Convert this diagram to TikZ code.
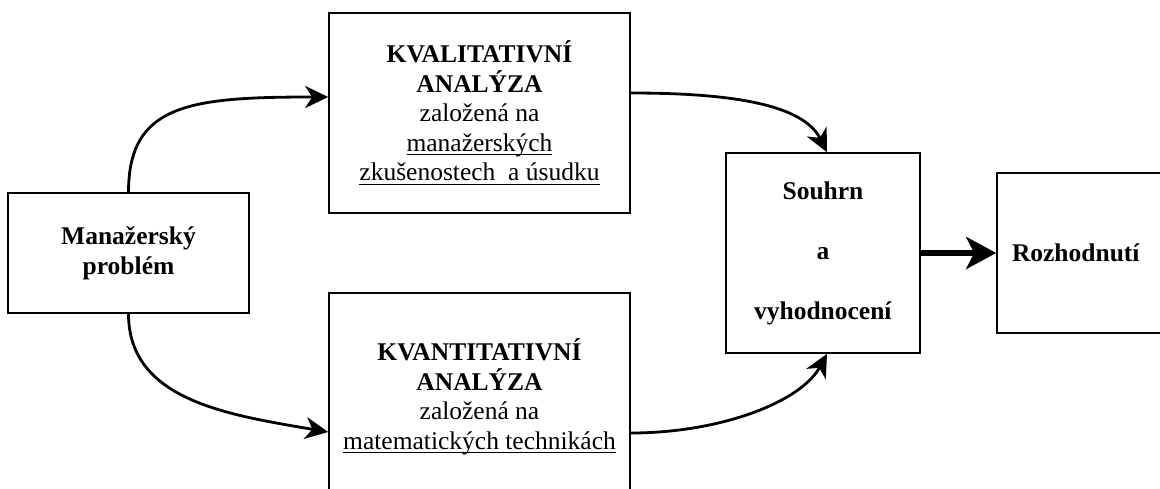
\documentclass[tikz,border=0pt]{standalone}
\usepackage{fontspec}
\setmainfont{Liberation Serif}
\usetikzlibrary{arrows.meta}
\newcommand\uln[1]{\setbox0\hbox{#1}\rlap{\rule[-4pt]{\wd0}{1.3pt}}\box0}
\begin{document}
\begin{tikzpicture}[x=1pt,y=-1pt,
  box/.style={draw=black, line width=1.6pt, inner sep=0pt, align=center,
    font=\fontsize{25.5}{29.5}\selectfont},
  conn/.style={draw=black, line width=2.8pt, -{Stealth[length=23pt,width=22pt,inset=7pt]}},
  bigconn/.style={draw=black, line width=6pt, -{Stealth[length=30pt,width=32pt,inset=8pt]}}]
\useasboundingbox (0,0) rectangle (1160,489);
\node[box, minimum width=241pt, minimum height=120pt] (man) at (128.5,253)
  {\textbf{Manažerský}\\ \textbf{problém}};
\node[box, minimum width=301pt, minimum height=200pt] (kval) at (479.5,113)
  {\textbf{KVALITATIVNÍ}\\ \textbf{ANALÝZA}\\ založená na\\ \uln{manažerských}\\ \uln{zkušenostech\ \ a úsudku}};
\node[box, minimum width=301pt, minimum height=208pt] (kvant) at (479.5,397)
  {\textbf{KVANTITATIVNÍ}\\ \textbf{ANALÝZA}\\ založená na\\ \uln{matematických technikách}};
\node[box, minimum width=194pt, minimum height=200pt, font=\fontsize{25.5}{30}\selectfont] (sou) at (823,253)
  {\textbf{Souhrn}\\[30pt] \textbf{a}\\[30pt] \textbf{vyhodnocení}};
\node[box, minimum width=175pt, minimum height=160pt, text width=145pt, inner xsep=15pt, align=left] (roz) at (1084.5,253)
  {\textbf{Rozhodnutí}};
\draw[conn] (man.north) .. controls +(0,-88) and +(-139,0) .. ([yshift=16pt]kval.west);
\draw[conn] (man.south) .. controls +(0,87) and +(-99,-17) .. ([yshift=-35pt]kvant.west);
\draw[conn] ([yshift=20pt]kval.east) .. controls +(100,0) and +(-24,-48) .. ([xshift=4pt]sou.north);
\draw[conn] ([yshift=-36pt]kvant.east) .. controls +(90,0) and +(-26,48) .. ([xshift=4pt]sou.south);
\draw[bigconn] (sou.east) -- (roz.west);
\end{tikzpicture}
\end{document}
